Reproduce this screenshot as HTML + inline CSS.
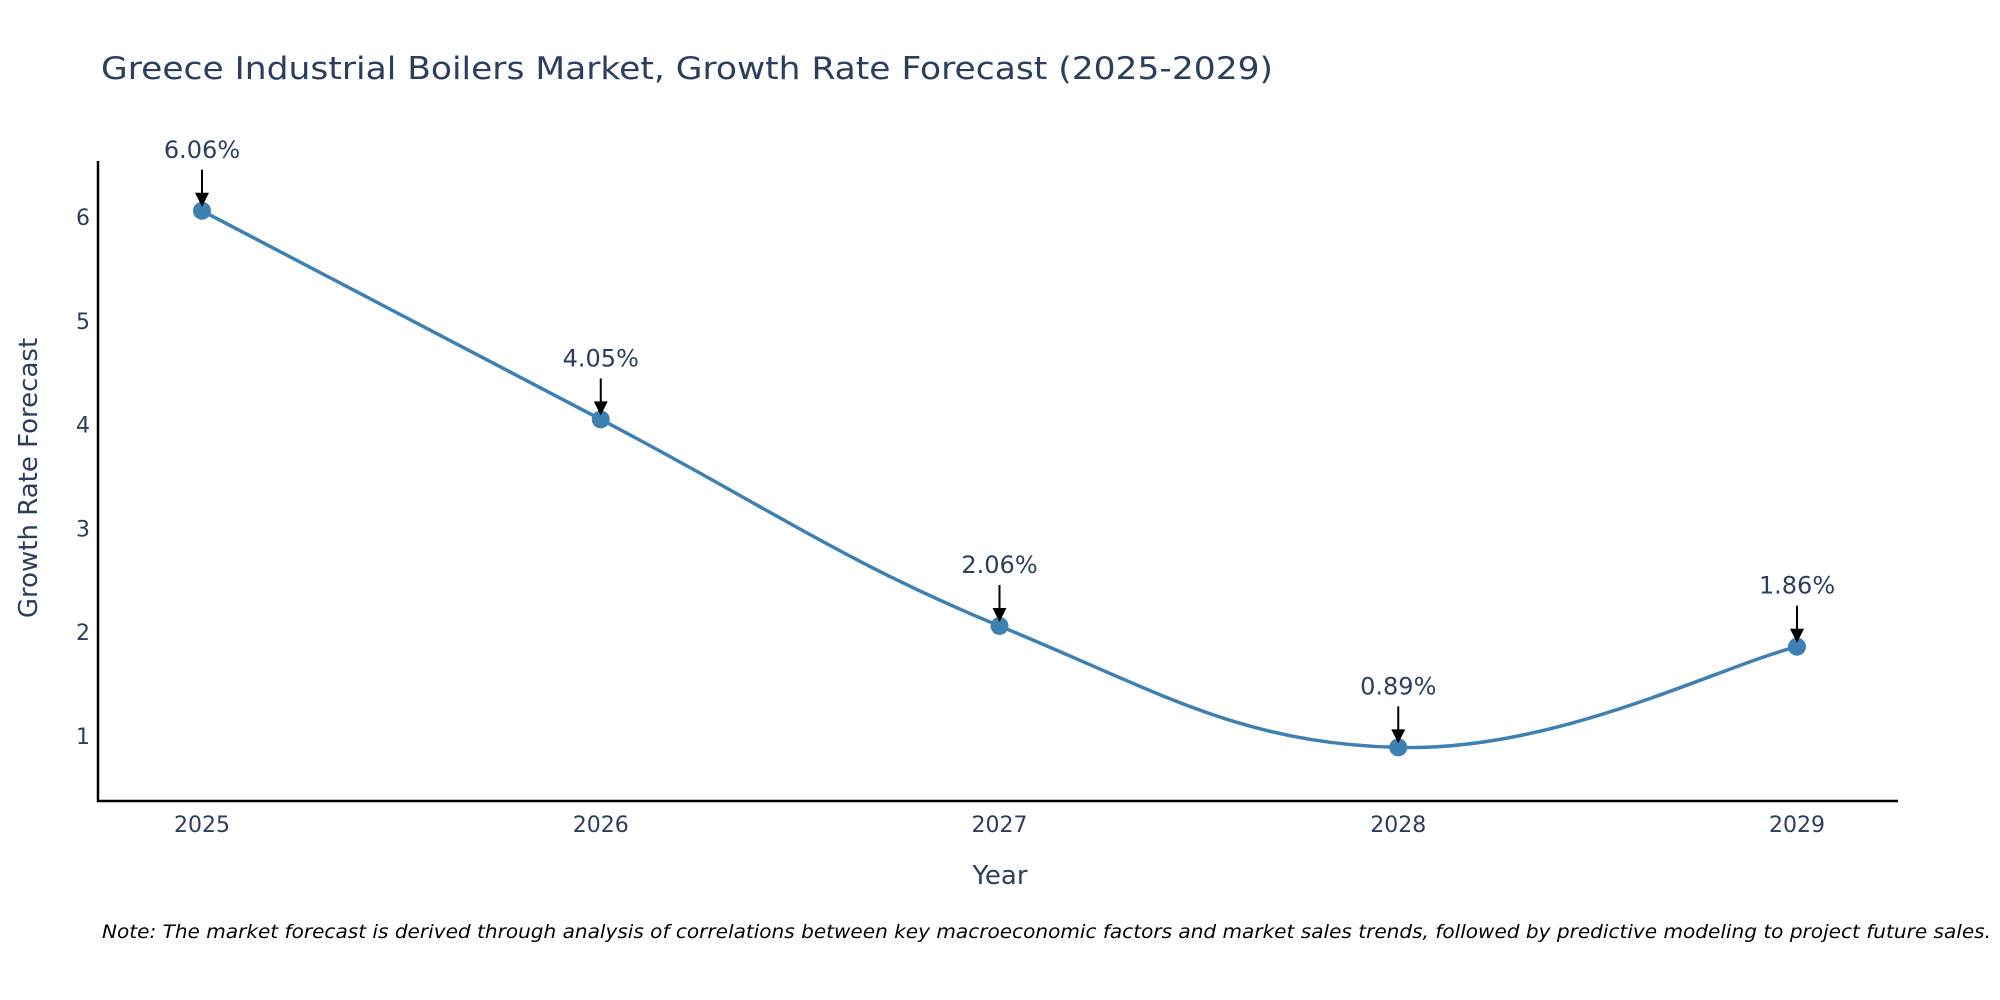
<!DOCTYPE html>
<html><head><meta charset="utf-8"><style>
html,body{margin:0;padding:0;background:#fff;}
svg{display:block;font-family:"DejaVu Sans","Liberation Sans",sans-serif;}
</style></head><body>
<svg id="chart" width="2000" height="1000" viewBox="0 0 2000 1000">
<text x="101" y="79" font-size="31" fill="#2a3f5f" textLength="1172" lengthAdjust="spacingAndGlyphs">Greece Industrial Boilers Market, Growth Rate Forecast (2025-2029)</text>
<g id="yticks"></g>
<g id="xticks"></g>
<line x1="98" y1="161" x2="98" y2="802" stroke="#000" stroke-width="2.5"/>
<line x1="97" y1="801" x2="1898" y2="801" stroke="#000" stroke-width="2.5"/>
<path id="line" fill="none" stroke="#3d80b1" stroke-width="3.5"/>
<g id="points"></g>
<g id="annots"></g>
<text x="1000" y="884" font-size="26" fill="#2a3f5f" text-anchor="middle">Year</text>
<text transform="translate(37,478) rotate(-90)" font-size="26" fill="#2a3f5f" text-anchor="middle">Growth Rate Forecast</text>
<text x="102" y="938" font-size="19" font-style="italic" fill="#000" textLength="1889" lengthAdjust="spacingAndGlyphs">Note: The market forecast is derived through analysis of correlations between key macroeconomic factors and market sales trends, followed by predictive modeling to project future sales.</text>
</svg>
<script>
const years = ["2025","2026","2027","2028","2029"];
const values = [6.06, 4.05, 2.06, 0.89, 1.86];
const labels = ["6.06%","4.05%","2.06%","0.89%","1.86%"];
const yTicks = [1,2,3,4,5,6];
const NS="http://www.w3.org/2000/svg";
function xs(i){return 202+i*(1797-202)/(years.length-1);}
function ys(v){return 736-(v-1)*103.8;}
function mk(tag,attrs,parent){const e=document.createElementNS(NS,tag);for(const k in attrs)e.setAttribute(k,attrs[k]);parent.appendChild(e);return e;}
const yt=document.getElementById('yticks');
yTicks.forEach(t=>{const e=mk('text',{x:90,y:ys(t)+8,'font-size':22,fill:'#2a3f5f','text-anchor':'end'},yt);e.textContent=t;

});
const xt=document.getElementById('xticks');
years.forEach((y,i)=>{const e=mk('text',{x:xs(i),y:832,'font-size':22,fill:'#2a3f5f','text-anchor':'middle'},xt);e.textContent=y;

});
const P=values.map((v,i)=>[xs(i),ys(v)]);
let d=`M${P[0][0]},${P[0][1]}`;const t=0.2;
for(let i=0;i<P.length-1;i++){const p0=P[Math.max(i-1,0)],p1=P[i],p2=P[i+1],p3=P[Math.min(i+2,P.length-1)];
const c1=[p1[0]+(p2[0]-p0[0])*t,p1[1]+(p2[1]-p0[1])*t],c2=[p2[0]-(p3[0]-p1[0])*t,p2[1]-(p3[1]-p1[1])*t];
d+=` C${c1[0]},${c1[1]} ${c2[0]},${c2[1]} ${p2[0]},${p2[1]}`;}
document.getElementById('line').setAttribute('d',d);
const pg=document.getElementById('points'),ag=document.getElementById('annots');
P.forEach((p,i)=>{const c=mk('circle',{cx:p[0],cy:p[1],r:9,fill:'#3d80b1'},pg);


const l=mk('line',{x1:p[0],y1:p[1]-41,x2:p[0],y2:p[1]-16,stroke:'#000','stroke-width':2},ag);


const h=mk('polygon',{points:`${p[0]-7},${p[1]-18} ${p[0]+7},${p[1]-18} ${p[0]},${p[1]-4}`,fill:'#000'},ag);


const tx=mk('text',{x:p[0],y:p[1]-53,'font-size':24,fill:'#2a3f5f','text-anchor':'middle'},ag);tx.textContent=labels[i];

});
</script>
</body></html>
